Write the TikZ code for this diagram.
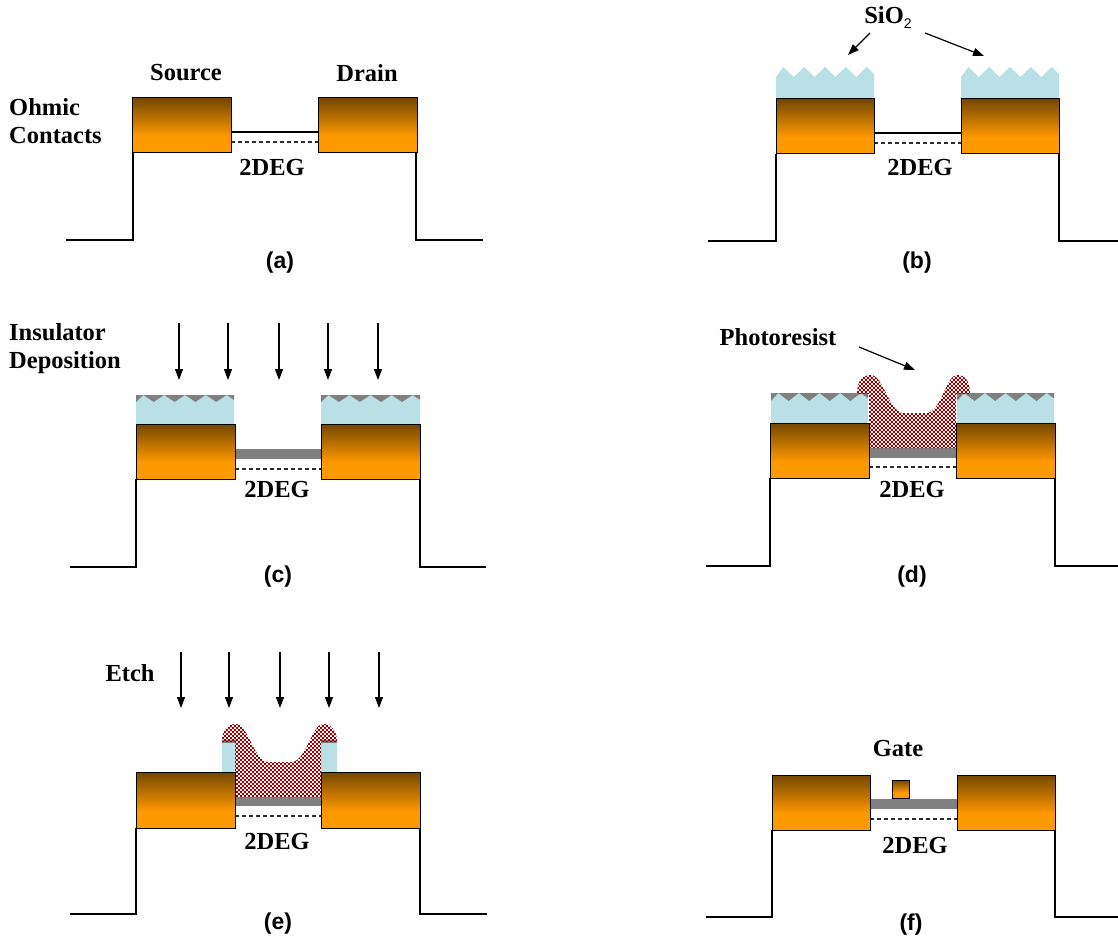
\documentclass[tikz,border=0pt]{standalone}
\usepackage{fontspec}
\setmainfont{Liberation Serif}
\newfontfamily\capfamily{Liberation Sans}
\usetikzlibrary{arrows.meta,patterns.meta}

\definecolor{ohmorange}{RGB}{255,153,0}
\definecolor{ohmbrown}{RGB}{116,71,0}
\definecolor{oxideblue}{RGB}{185,224,228}
\definecolor{insgray}{RGB}{128,128,128}
\definecolor{resistred}{RGB}{150,0,0}
\definecolor{degline}{RGB}{45,45,45}

% metal contacts: dark brown on top fading to orange
\pgfdeclareverticalshading{contactshade}{100bp}{color(0bp)=(ohmorange); color(25bp)=(ohmorange); color(40bp)=(ohmorange); color(75bp)=(ohmbrown); color(100bp)=(ohmbrown)}

% checkered photoresist fill
\tikzdeclarepattern{
  name=resistcheck,
  type=uncolored,
  bounding box={(0pt,0pt) and (4.4pt,4.4pt)},
  tile size={(4.4pt,4.4pt)},
  code={
    \pgfpathrectangle{\pgfpointorigin}{\pgfqpoint{2.2pt}{2.2pt}}
    \pgfpathrectangle{\pgfqpoint{2.2pt}{2.2pt}}{\pgfqpoint{2.2pt}{2.2pt}}
    \pgfusepath{fill}
  }
}

% SiO2 block with a saw-tooth top: x0, x1, y of peaks, y of valleys, y of base
\newcommand{\oxidelayer}[5]{%
  \fill[oxide] (#1,#5) -- (#1,#4)
    \foreach \k in {0,...,3}{ -- ({#1+(#2-#1)*(0.075+0.2125*\k)},#3) -- ({#1+(#2-#1)*(0.18125+0.2125*\k)},#4) }
    -- ({#1+(#2-#1)*0.925},#3) -- (#2,{#4-0.3*(#4-#3)}) -- (#2,#5) -- cycle;}

% insulator filling the saw-tooth valleys: x0, x1, y of peaks, y of valleys
\newcommand{\insulcap}[4]{%
  \fill[insul] (#1,#3) -- (#1,#4)
    \foreach \k in {0,...,3}{ -- ({#1+(#2-#1)*(0.075+0.2125*\k)},#3) -- ({#1+(#2-#1)*(0.18125+0.2125*\k)},#4) }
    -- ({#1+(#2-#1)*0.925},#3) -- (#2,{#4-0.3*(#4-#3)}) -- (#2,#3) -- cycle;}

\begin{document}
\begin{tikzpicture}[x=1pt,y=-1pt,
  mesa/.style={line width=2pt},
  surface/.style={line width=2pt},
  degline/.style={draw=degline,line width=1.3pt,dash pattern=on 4pt off 3pt},
  contact/.style={draw=black,line width=1pt,shading=contactshade},
  oxide/.style={fill=oxideblue},
  insul/.style={fill=insgray},
  barrier/.style={fill=insgray},
  resist/.style={pattern=resistcheck,pattern color=resistred},
  lbl/.style={inner sep=0pt,font=\bfseries\fontsize{24.5}{28}\selectfont},
  panelcap/.style={inner sep=0pt,font=\capfamily\bfseries\fontsize{23}{26}\selectfont},
  pointer/.style={line width=1.2pt,-{Triangle[length=11pt,width=8pt]}},
  beam/.style={line width=1.2pt,-{Triangle[length=11pt,width=8pt]}},
]
\useasboundingbox (0,0) rectangle (1118,941);

% ---------------- (a) ohmic contacts ----------------
\draw[mesa] (66,240) -- (133,240) -- (133,153);
\draw[mesa] (416,153) -- (416,240) -- (483,240);
\draw[degline] (231,142) -- (318,142);
\draw[surface] (231,132) -- (318,132);
\draw[contact] (132,98) rectangle (231,153);
\draw[contact] (318,98) rectangle (417,153);
\node[lbl] (srcA) at (186,73) {Source};
\node[lbl] (drnA) at (367,73) {Drain};
\node[lbl,anchor=west,align=left] (ohmA) at (9,121) {Ohmic\\Contacts};
\node[lbl] (degA) at (272,168) {2DEG};
\node[panelcap] (capA) at (280,263) {(a)};

% ---------------- (b) SiO2 mask ----------------
\draw[mesa] (708,241) -- (776,241) -- (776,154);
\draw[mesa] (1059,154) -- (1059,241) -- (1118,241);
\draw[degline] (874,143) -- (961,143);
\draw[surface] (874,133) -- (961,133);
\oxidelayer{776}{874}{67}{77}{99}
\oxidelayer{961}{1059}{67}{77}{99}
\draw[contact] (776,99) rectangle (874,154);
\draw[contact] (961,99) rectangle (1059,154);
\node[lbl] (sioB) at (888,18) {SiO\raisebox{-5pt}{\capfamily\mdseries\fontsize{14}{14}\selectfont 2}};
\coordinate (sioLt) at (870,33);
\coordinate (sioLh) at (848,55);
\coordinate (sioRt) at (925,33);
\coordinate (sioRh) at (984,56);
\draw[pointer] (sioLt) -- (sioLh);
\draw[pointer] (sioRt) -- (sioRh);
\node[lbl] (degB) at (920,168) {2DEG};
\node[panelcap] (capB) at (917,263) {(b)};

% ---------------- (c) insulator deposition ----------------
\draw[mesa] (70,567) -- (136,567) -- (136,479);
\draw[mesa] (420,479) -- (420,567) -- (486,567);
\draw[degline] (235,469) -- (321,469);
\fill[barrier] (235,449) rectangle (321,459);
\oxidelayer{136}{234}{395}{402}{424}
\insulcap{136}{234}{395}{402}
\oxidelayer{321}{420}{395}{402}{424}
\insulcap{321}{420}{395}{402}
\draw[contact] (136,424) rectangle (235,479);
\draw[contact] (321,424) rectangle (420,479);
\node[lbl,anchor=west,align=left] (insC) at (9,349) {Insulator\\Deposition};
\foreach \i/\x in {1/179,2/228,3/279,4/328,5/378}{
  \coordinate (depT\i) at (\x,323);
  \coordinate (depH\i) at (\x,380);
  \draw[beam] (depT\i) -- (depH\i);
}
\node[lbl] (degC) at (277,490) {2DEG};
\node[panelcap] (capC) at (278,577) {(c)};

% ---------------- (d) photoresist ----------------
\draw[mesa] (706,566) -- (770,566) -- (770,478);
\draw[mesa] (1055,478) -- (1055,566) -- (1118,566);
\draw[degline] (869,467) -- (956,467);
\fill[barrier] (869,448) rectangle (956,458);
\oxidelayer{771}{868}{393}{401}{423}
\insulcap{771}{868}{393}{401}
\oxidelayer{957}{1054}{393}{401}{423}
\insulcap{957}{1054}{393}{401}
\fill[resist] (857,394) .. controls (857,380) and (863,375) .. (871,375)
  .. controls (883,375) and (889,412) .. (903,413) -- (927,413)
  .. controls (941,412) and (946,375) .. (957,375)
  .. controls (965,375) and (970,381) .. (970,394)
  -- (956,394) -- (956,448) -- (869,448) -- (869,394) -- cycle;
\draw[contact] (770,423) rectangle (869,478);
\draw[contact] (956,423) rectangle (1055,478);
\node[lbl] (prD) at (778,337) {Photoresist};
\coordinate (prT) at (859,347);
\coordinate (prH) at (915,370);
\draw[pointer] (prT) -- (prH);
\node[lbl] (degD) at (912,490) {2DEG};
\node[panelcap] (capD) at (912,577) {(d)};

% ---------------- (e) etch ----------------
\draw[mesa] (70,914) -- (136,914) -- (136,828);
\draw[mesa] (420,828) -- (420,914) -- (487,914);
\draw[degline] (235,816) -- (321,816);
\fill[barrier] (235,797) rectangle (321,806);
\fill[oxide] (222,740) rectangle (236,772);
\fill[oxide] (321,740) rectangle (337,772);
\fill[insul] (222,740) rectangle (236,743);
\fill[insul] (321,740) rectangle (337,743);
\fill[resist] (222,742) .. controls (222,729) and (228,724) .. (236,724)
  .. controls (248,724) and (254,761) .. (268,762) -- (292,762)
  .. controls (306,761) and (312,724) .. (323,724)
  .. controls (331,724) and (337,730) .. (337,742)
  -- (321,742) -- (321,797) -- (235,797) -- (235,742) -- cycle;
\draw[contact] (136,772) rectangle (235,828);
\draw[contact] (321,772) rectangle (420,828);
\node[lbl] (etchE) at (130,673) {Etch};
\foreach \i/\x in {1/181,2/229,3/280,4/329,5/379}{
  \coordinate (etT\i) at (\x,652);
  \coordinate (etH\i) at (\x,708);
  \draw[beam] (etT\i) -- (etH\i);
}
\node[lbl] (degE) at (277,841) {2DEG};
\node[panelcap] (capE) at (278,924) {(e)};

% ---------------- (f) gate ----------------
\draw[mesa] (706,917) -- (772,917) -- (772,830);
\draw[mesa] (1055,830) -- (1055,917) -- (1118,917);
\draw[degline] (870,819) -- (957,819);
\fill[barrier] (870,799) rectangle (957,809);
\draw[contact] (892,780) rectangle (909,798);
\draw[contact] (772,775) rectangle (870,830);
\draw[contact] (957,775) rectangle (1055,830);
\node[lbl] (gateF) at (898,749) {Gate};
\node[lbl] (degF) at (915,845) {2DEG};
\node[panelcap] (capF) at (911,925) {(f)};
\end{tikzpicture}
\end{document}
